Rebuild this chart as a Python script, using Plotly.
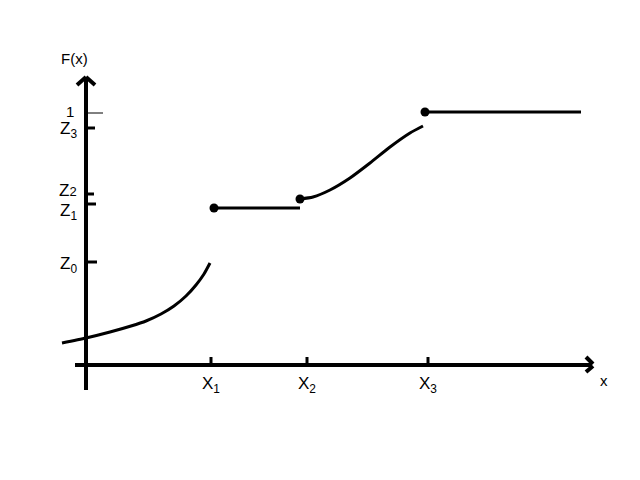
import plotly.graph_objects as go

# Data in diagram units (origin at axes intersection)
curve1_x = [-24, 0, 24, 45, 60, 75, 88, 100, 110, 118, 124]
curve1_y = [22, 27, 33, 39, 44, 51, 59, 69, 80, 91, 102]

flat1_x = [128, 214]
flat1_y = [157, 157]

curve2_x = [214, 227, 244, 264, 284, 304, 324, 337]
curve2_y = [166, 168, 175, 187, 202, 218, 232, 239]

flat2_x = [339, 495]
flat2_y = [253, 253]

dots_x = [128, 214, 339]
dots_y = [157, 166, 253]

x_tick_pos = [125, 221, 342]
x_tick_labels = ["X<sub>1</sub>", "X<sub>2</sub>", "X<sub>3</sub>"]

y_tick_pos = [237, 171, 161, 103]
y_tick_labels = ["Z<sub>3</sub>", "Z<span style='font-size:13px'>2</span>", "Z<sub>1</sub>", "Z<sub>0</sub>"]
y_label_pos = [235, 175, 153, 100]
y_tick_len = [9, 8, 10, 11]
y_one = 252

fig = go.Figure()
line = dict(color="black", width=3)

fig.add_trace(go.Scatter(x=curve1_x, y=curve1_y, mode="lines", line=dict(color="black", width=3, shape="spline", smoothing=0.6)))
fig.add_trace(go.Scatter(x=flat1_x, y=flat1_y, mode="lines", line=line))
fig.add_trace(go.Scatter(x=curve2_x, y=curve2_y, mode="lines", line=dict(color="black", width=3, shape="spline", smoothing=0.6)))
fig.add_trace(go.Scatter(x=flat2_x, y=flat2_y, mode="lines", line=line))
fig.add_trace(go.Scatter(x=dots_x, y=dots_y, mode="markers", marker=dict(color="black", size=9)))

shapes = []
ax = dict(type="line", xref="x", yref="y", line=dict(color="black", width=4))
# axes
shapes.append(dict(ax, x0=0, x1=0, y0=-25, y1=287))
shapes.append(dict(ax, x0=-11, x1=506, y0=0, y1=0))
# arrowheads
shapes.append(dict(ax, x0=-9, x1=0, y0=280, y1=288))
shapes.append(dict(ax, x0=9, x1=0, y0=280, y1=288))
shapes.append(dict(ax, x0=500, x1=507, y0=8, y1=1))
shapes.append(dict(ax, x0=500, x1=507, y0=-7, y1=-1))
# x ticks
for xp in x_tick_pos:
    shapes.append(dict(type="line", xref="x", yref="y", x0=xp, x1=xp, y0=0, y1=8, line=dict(color="black", width=3)))
# y ticks
for yp, ln in zip(y_tick_pos, y_tick_len):
    shapes.append(dict(type="line", xref="x", yref="y", x0=0, x1=ln, y0=yp, y1=yp, line=dict(color="black", width=3)))
shapes.append(dict(type="line", xref="x", yref="y", x0=0, x1=17, y0=y_one, y1=y_one, line=dict(color="black", width=1)))

annotations = []
font = dict(family="Liberation Sans, Arial, sans-serif", size=17, color="black")
for xp, lab in zip(x_tick_pos, x_tick_labels):
    annotations.append(dict(x=xp, y=-20, text=lab, showarrow=False, font=font, xref="x", yref="y"))
for yp, lab in zip(y_label_pos, y_tick_labels):
    annotations.append(dict(x=-7, y=yp, text=lab, showarrow=False, font=font, xref="x", yref="y", xanchor="right"))
annotations.append(dict(x=-10, y=y_one + 2, text="1", showarrow=False, font=dict(font, size=15), xref="x", yref="y", xanchor="right"))
annotations.append(dict(x=-12, y=307, text="F(x)", showarrow=False, font=dict(font, size=15), xref="x", yref="y"))
annotations.append(dict(x=518, y=-15, text="x", showarrow=False, font=dict(font, size=15), xref="x", yref="y"))

fig.update_layout(
    width=640, height=480,
    margin=dict(l=0, r=0, t=0, b=0),
    paper_bgcolor="white", plot_bgcolor="white",
    showlegend=False,
    xaxis=dict(range=[-78, 562], visible=False, fixedrange=True),
    yaxis=dict(range=[-123, 357], visible=False, fixedrange=True),
    shapes=shapes, annotations=annotations,
)
fig.write_html("out.html")
